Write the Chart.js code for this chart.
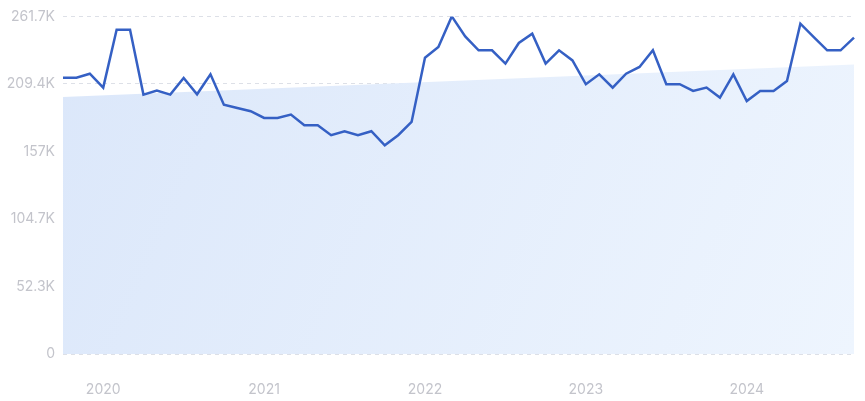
<!DOCTYPE html>
<html>
<head>
<meta charset="utf-8">
<script src="https://cdn.jsdelivr.net/npm/chart.js@4/dist/chart.umd.min.js"></script>
<style>
  html, body { margin: 0; padding: 0; background: #fff; }
  #wrap { width: 865px; height: 401px; position: relative; }
</style>
</head>
<body>
<div id="wrap"><canvas id="trendChart"></canvas></div>
<script>
// monthly categories, Oct 2019 .. Sep 2024
const months = [
  "2019-10","2019-11","2019-12",
  "2020-01","2020-02","2020-03","2020-04","2020-05","2020-06","2020-07","2020-08","2020-09","2020-10","2020-11","2020-12",
  "2021-01","2021-02","2021-03","2021-04","2021-05","2021-06","2021-07","2021-08","2021-09","2021-10","2021-11","2021-12",
  "2022-01","2022-02","2022-03","2022-04","2022-05","2022-06","2022-07","2022-08","2022-09","2022-10","2022-11","2022-12",
  "2023-01","2023-02","2023-03","2023-04","2023-05","2023-06","2023-07","2023-08","2023-09","2023-10","2023-11","2023-12",
  "2024-01","2024-02","2024-03","2024-04","2024-05","2024-06","2024-07","2024-08","2024-09"
];

const searchVolume = [
  214200, 214200, 217300,
  206500, 251400, 251400, 201100, 204200, 201100, 214000, 201300, 216800, 193300, 190700, 188200,
  183000, 183000, 185600, 177300, 177300, 169600, 172700, 169600, 172700, 161800, 169600, 179900,
  229700, 238000, 261700, 246200, 235400, 235400, 225100, 241100, 248300, 225100, 235400, 227600,
  209100, 216800, 206500, 217300, 222500, 235400, 209100, 209100, 203900, 206500, 198800, 216800,
  196100, 203900, 203900, 211600, 256100, 245700, 235400, 235400, 245200
];

// trend line end points
const trendStart = { x: "2019-10", y: 199200 };
const trendEnd = { x: "2024-09", y: 224500 };

const yTicks = [0, 52340, 104680, 157020, 209360, 261700];
const yTickLabels = ["0", "52.3K", "104.7K", "157K", "209.4K", "261.7K"];

const tickColor = "#c3c4cb";
const gridColor = "#dde0e7";

const ctx = document.getElementById("trendChart").getContext("2d");
const chart = new Chart(ctx, {
  type: "line",
  data: {
    labels: months,
    datasets: [
      {
        label: "Volume",
        data: searchVolume,
        borderColor: "#3560c4",
        borderWidth: 2.5,
        pointRadius: 0,
        tension: 0,
        fill: false,
        order: 0
      },
      {
        label: "Trend",
        data: [trendStart, trendEnd],
        borderWidth: 0,
        borderColor: "rgba(0,0,0,0)",
        pointRadius: 0,
        fill: "origin",
        backgroundColor: (c) => {
          const area = c.chart.chartArea;
          if (!area) return "#e3eefc";
          const g = c.chart.ctx.createLinearGradient(area.left, area.top, area.right, area.bottom);
          g.addColorStop(0, "#dbe7fa");
          g.addColorStop(1, "#eef5fe");
          return g;
        },
        order: 1
      }
    ]
  },
  options: {
    responsive: true,
    maintainAspectRatio: false,
    animation: false,
    layout: { padding: { top: 16, right: 11, left: 0, bottom: 0 } },
    plugins: { legend: { display: false }, tooltip: { enabled: false } },
    scales: {
      x: {
        offset: false,
        grid: { display: false },
        border: { display: false },
        ticks: {
          autoSkip: false,
          maxRotation: 0,
          padding: 19,
          color: tickColor,
          font: { family: "Inter", size: 14 },
          callback: function (val, i) {
            const m = months[i];
            return m.endsWith("-01") ? m.slice(0, 4) : "";
          }
        },
        afterFit: (axis) => {
          axis.height = 47;
          axis.paddingLeft = 0;
          axis.paddingRight = 0;
        }
      },
      y: {
        min: 0,
        max: 261700,
        border: { display: false, dash: [4, 4] },
        grid: {
          color: gridColor,
          drawTicks: false,
          lineWidth: 1
        },
        afterBuildTicks: (axis) => { axis.ticks = yTicks.map(v => ({ value: v })); },
        ticks: {
          padding: 8,
          color: tickColor,
          font: { family: "Inter", size: 14 },
          callback: (val, i) => yTickLabels[i]
        },
        afterFit: (axis) => { axis.width = 63; }
      }
    }
  }
});
</script>
</body>
</html>
